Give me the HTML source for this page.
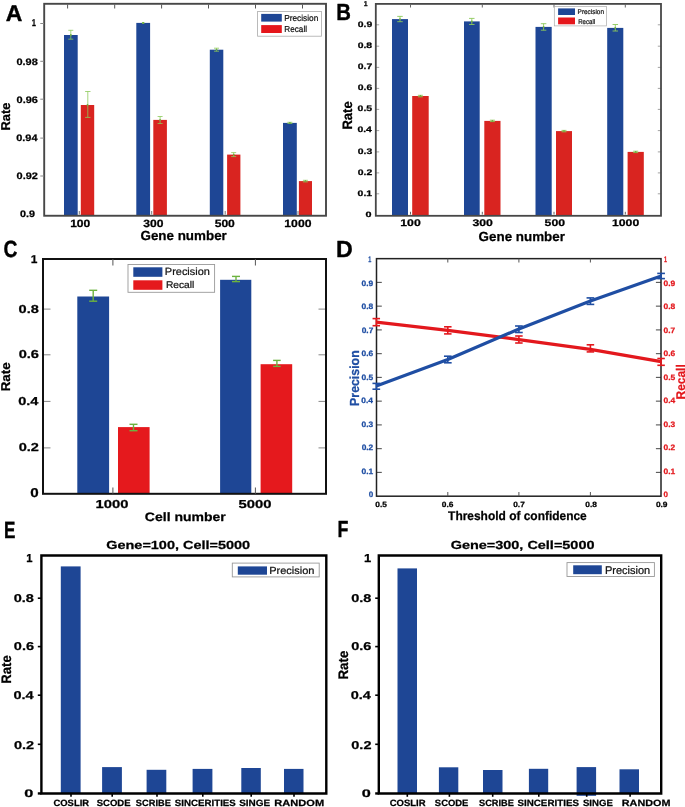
<!DOCTYPE html>
<html><head><meta charset="utf-8"><style>
html,body{margin:0;padding:0;background:#fff;overflow:hidden;}
svg{display:block;font-family:"Liberation Sans",sans-serif;will-change:transform;text-rendering:geometricPrecision;}
</style></head><body>
<svg width="685" height="807" viewBox="0 0 685 807">
<rect width="685" height="807" fill="#fff"/>
<text transform="translate(5.73,20.7) scale(1.01,1)" font-size="22.75" fill="#000" font-weight="bold" stroke="#000" stroke-width="0.4" stroke-linejoin="round">A</text>
<rect x="64" y="35" width="13.7" height="180" fill="#1e4695"/>
<rect x="80.8" y="105" width="13.4" height="110" fill="#d92420"/>
<rect x="136.3" y="22.9" width="13.8" height="192.1" fill="#1e4695"/>
<rect x="153.3" y="119.9" width="13.6" height="95.1" fill="#d92420"/>
<rect x="209.8" y="49.7" width="13.5" height="165.3" fill="#1e4695"/>
<rect x="227.1" y="154.6" width="13.3" height="60.4" fill="#d92420"/>
<rect x="283" y="122.9" width="13.8" height="92.1" fill="#1e4695"/>
<rect x="298.9" y="181.1" width="13.1" height="33.9" fill="#d92420"/>
<line x1="70.8" y1="30.3" x2="70.8" y2="39.2" stroke="#8dc95a" stroke-width="0.8"/>
<line x1="68.3" y1="30.3" x2="73.3" y2="30.3" stroke="#8dc95a" stroke-width="0.8"/>
<line x1="68.3" y1="39.2" x2="73.3" y2="39.2" stroke="#8dc95a" stroke-width="0.8"/>
<line x1="87.8" y1="91.5" x2="87.8" y2="117.4" stroke="#8dc95a" stroke-width="0.8"/>
<line x1="85.1" y1="91.5" x2="90.5" y2="91.5" stroke="#8dc95a" stroke-width="0.8"/>
<line x1="85.1" y1="117.4" x2="90.5" y2="117.4" stroke="#8dc95a" stroke-width="0.8"/>
<line x1="143.2" y1="22.5" x2="143.2" y2="23.3" stroke="#8dc95a" stroke-width="0.8"/>
<line x1="141.95" y1="22.5" x2="144.45" y2="22.5" stroke="#8dc95a" stroke-width="0.8"/>
<line x1="141.95" y1="23.3" x2="144.45" y2="23.3" stroke="#8dc95a" stroke-width="0.8"/>
<line x1="160.1" y1="116.5" x2="160.1" y2="123.5" stroke="#8dc95a" stroke-width="0.8"/>
<line x1="157.6" y1="116.5" x2="162.6" y2="116.5" stroke="#8dc95a" stroke-width="0.8"/>
<line x1="157.6" y1="123.5" x2="162.6" y2="123.5" stroke="#8dc95a" stroke-width="0.8"/>
<line x1="216.5" y1="48.2" x2="216.5" y2="51.2" stroke="#8dc95a" stroke-width="0.8"/>
<line x1="214" y1="48.2" x2="219" y2="48.2" stroke="#8dc95a" stroke-width="0.8"/>
<line x1="214" y1="51.2" x2="219" y2="51.2" stroke="#8dc95a" stroke-width="0.8"/>
<line x1="233.7" y1="152.6" x2="233.7" y2="156.6" stroke="#8dc95a" stroke-width="0.8"/>
<line x1="231.2" y1="152.6" x2="236.2" y2="152.6" stroke="#8dc95a" stroke-width="0.8"/>
<line x1="231.2" y1="156.6" x2="236.2" y2="156.6" stroke="#8dc95a" stroke-width="0.8"/>
<line x1="289.9" y1="122.3" x2="289.9" y2="123.5" stroke="#8dc95a" stroke-width="0.8"/>
<line x1="287.4" y1="122.3" x2="292.4" y2="122.3" stroke="#8dc95a" stroke-width="0.8"/>
<line x1="287.4" y1="123.5" x2="292.4" y2="123.5" stroke="#8dc95a" stroke-width="0.8"/>
<line x1="305.4" y1="180.3" x2="305.4" y2="181.9" stroke="#8dc95a" stroke-width="0.8"/>
<line x1="302.9" y1="180.3" x2="307.9" y2="180.3" stroke="#8dc95a" stroke-width="0.8"/>
<line x1="302.9" y1="181.9" x2="307.9" y2="181.9" stroke="#8dc95a" stroke-width="0.8"/>
<circle cx="70.85" cy="35" r="0.9" fill="#6fae3f"/>
<circle cx="87.5" cy="105" r="0.9" fill="#6fae3f"/>
<circle cx="143.2" cy="22.9" r="0.9" fill="#6fae3f"/>
<circle cx="160.1" cy="119.9" r="0.9" fill="#6fae3f"/>
<circle cx="216.55" cy="49.7" r="0.9" fill="#6fae3f"/>
<circle cx="233.75" cy="154.6" r="0.9" fill="#6fae3f"/>
<circle cx="289.9" cy="122.9" r="0.9" fill="#6fae3f"/>
<circle cx="305.45" cy="181.1" r="0.9" fill="#6fae3f"/>
<rect x="44.2" y="3.8" width="281.8" height="211.95" fill="none" stroke="#474747" stroke-width="1.9"/>
<line x1="67.6" y1="4.5" x2="67.6" y2="8.5" stroke="#555" stroke-width="1"/>
<line x1="114.7" y1="4.5" x2="114.7" y2="8.5" stroke="#555" stroke-width="1"/>
<line x1="161.6" y1="4.5" x2="161.6" y2="8.5" stroke="#555" stroke-width="1"/>
<line x1="208.5" y1="4.5" x2="208.5" y2="8.5" stroke="#555" stroke-width="1"/>
<line x1="255.5" y1="4.5" x2="255.5" y2="8.5" stroke="#555" stroke-width="1"/>
<line x1="302.5" y1="4.5" x2="302.5" y2="8.5" stroke="#555" stroke-width="1"/>
<line x1="79.3" y1="211" x2="79.3" y2="214.5" stroke="#555" stroke-width="0.8"/>
<line x1="151.7" y1="211" x2="151.7" y2="214.5" stroke="#555" stroke-width="0.8"/>
<line x1="225.2" y1="211" x2="225.2" y2="214.5" stroke="#555" stroke-width="0.8"/>
<line x1="298" y1="211" x2="298" y2="214.5" stroke="#555" stroke-width="0.8"/>
<line x1="40.3" y1="23.5" x2="44" y2="23.5" stroke="#888" stroke-width="1"/>
<line x1="40.3" y1="61.3" x2="44" y2="61.3" stroke="#888" stroke-width="1"/>
<line x1="40.3" y1="99.2" x2="44" y2="99.2" stroke="#888" stroke-width="1"/>
<line x1="40.3" y1="138.1" x2="44" y2="138.1" stroke="#888" stroke-width="1"/>
<line x1="40.3" y1="176" x2="44" y2="176" stroke="#888" stroke-width="1"/>
<text transform="translate(16.49,64.63) scale(1.17,1)" font-size="9.37" fill="#000" font-weight="bold" stroke="#000" stroke-width="0.25" stroke-linejoin="round">0.98</text>
<text transform="translate(16.54,102.53) scale(1.17,1)" font-size="9.37" fill="#000" font-weight="bold" stroke="#000" stroke-width="0.25" stroke-linejoin="round">0.96</text>
<text transform="translate(16.21,141.43) scale(1.17,1)" font-size="9.37" fill="#000" font-weight="bold" stroke="#000" stroke-width="0.25" stroke-linejoin="round">0.94</text>
<text transform="translate(16.6,179.33) scale(1.17,1)" font-size="9.37" fill="#000" font-weight="bold" stroke="#000" stroke-width="0.25" stroke-linejoin="round">0.92</text>
<text transform="translate(19.99,216.68) scale(1.15,1)" font-size="9.37" fill="#000" font-weight="bold" stroke="#000" stroke-width="0.25" stroke-linejoin="round">0.9</text>
<text transform="translate(31.73,25.77) scale(0.77,1)" font-size="9.93" fill="#000" font-weight="bold" stroke="#000" stroke-width="0.25" stroke-linejoin="round">1</text>
<rect x="257.6" y="11.4" width="63.9" height="24.8" fill="#fff" stroke="#aaa" stroke-width="0.8"/>
<rect x="261.2" y="13.9" width="20.6" height="7.7" fill="#1e4695"/>
<rect x="261.2" y="25.1" width="20.6" height="7.9" fill="#e5161b"/>
<text transform="translate(284.14,21) scale(0.96,1)" font-size="8.68" fill="#111" stroke="#111" stroke-width="0.22" stroke-linejoin="round">Precision</text>
<text transform="translate(284.36,32.2) scale(0.94,1)" font-size="8.68" fill="#111" stroke="#111" stroke-width="0.22" stroke-linejoin="round">Recall</text>
<text transform="translate(70.14,226.67) scale(1.15,1)" font-size="10.49" fill="#000" font-weight="bold" stroke="#000" stroke-width="0.25" stroke-linejoin="round">100</text>
<text transform="translate(143.33,226.67) scale(1.15,1)" font-size="10.49" fill="#000" font-weight="bold" stroke="#000" stroke-width="0.25" stroke-linejoin="round">300</text>
<text transform="translate(214.7,226.67) scale(1.15,1)" font-size="10.49" fill="#000" font-weight="bold" stroke="#000" stroke-width="0.25" stroke-linejoin="round">500</text>
<text transform="translate(284.36,226.67) scale(1.16,1)" font-size="10.49" fill="#000" font-weight="bold" stroke="#000" stroke-width="0.25" stroke-linejoin="round">1000</text>
<text transform="translate(140.49,240.14) scale(1.02,1)" font-size="13.13" fill="#000" font-weight="bold" stroke="#000" stroke-width="0.25" stroke-linejoin="round">Gene number</text>
<text transform="translate(10.05,130.52) rotate(-90) scale(1.01,1)" font-size="12.79" fill="#000" font-weight="bold" stroke="#000" stroke-width="0.25" stroke-linejoin="round">Rate</text>
<text transform="translate(336.28,20.2) scale(0.87,1)" font-size="23.33" fill="#000" font-weight="bold" stroke="#000" stroke-width="0.4" stroke-linejoin="round">B</text>
<rect x="392" y="19.1" width="16" height="195.9" fill="#1e4695"/>
<rect x="412.2" y="96" width="16.5" height="119" fill="#d92420"/>
<rect x="464" y="21.4" width="15.7" height="193.6" fill="#1e4695"/>
<rect x="484.3" y="120.9" width="16.2" height="94.1" fill="#d92420"/>
<rect x="535.5" y="26.9" width="16.2" height="188.1" fill="#1e4695"/>
<rect x="556" y="131.1" width="16" height="83.9" fill="#d92420"/>
<rect x="607.2" y="27.9" width="16.1" height="187.1" fill="#1e4695"/>
<rect x="627.6" y="151.9" width="16.2" height="63.1" fill="#d92420"/>
<line x1="400" y1="16.4" x2="400" y2="21.7" stroke="#8dc95a" stroke-width="0.9"/>
<line x1="397.25" y1="16.4" x2="402.75" y2="16.4" stroke="#8dc95a" stroke-width="0.9"/>
<line x1="397.25" y1="21.7" x2="402.75" y2="21.7" stroke="#8dc95a" stroke-width="0.9"/>
<line x1="471.8" y1="18.4" x2="471.8" y2="24.5" stroke="#8dc95a" stroke-width="0.9"/>
<line x1="469.05" y1="18.4" x2="474.55" y2="18.4" stroke="#8dc95a" stroke-width="0.9"/>
<line x1="469.05" y1="24.5" x2="474.55" y2="24.5" stroke="#8dc95a" stroke-width="0.9"/>
<line x1="543.6" y1="23.7" x2="543.6" y2="30.2" stroke="#8dc95a" stroke-width="0.9"/>
<line x1="540.85" y1="23.7" x2="546.35" y2="23.7" stroke="#8dc95a" stroke-width="0.9"/>
<line x1="540.85" y1="30.2" x2="546.35" y2="30.2" stroke="#8dc95a" stroke-width="0.9"/>
<line x1="615.3" y1="24.5" x2="615.3" y2="31" stroke="#8dc95a" stroke-width="0.9"/>
<line x1="612.55" y1="24.5" x2="618.05" y2="24.5" stroke="#8dc95a" stroke-width="0.9"/>
<line x1="612.55" y1="31" x2="618.05" y2="31" stroke="#8dc95a" stroke-width="0.9"/>
<line x1="420.4" y1="95.3" x2="420.4" y2="96.8" stroke="#8dc95a" stroke-width="0.9"/>
<line x1="417.9" y1="95.3" x2="422.9" y2="95.3" stroke="#8dc95a" stroke-width="0.9"/>
<line x1="417.9" y1="96.8" x2="422.9" y2="96.8" stroke="#8dc95a" stroke-width="0.9"/>
<line x1="492.4" y1="120.2" x2="492.4" y2="121.6" stroke="#8dc95a" stroke-width="0.9"/>
<line x1="489.9" y1="120.2" x2="494.9" y2="120.2" stroke="#8dc95a" stroke-width="0.9"/>
<line x1="489.9" y1="121.6" x2="494.9" y2="121.6" stroke="#8dc95a" stroke-width="0.9"/>
<line x1="564" y1="130.4" x2="564" y2="131.8" stroke="#8dc95a" stroke-width="0.9"/>
<line x1="561.5" y1="130.4" x2="566.5" y2="130.4" stroke="#8dc95a" stroke-width="0.9"/>
<line x1="561.5" y1="131.8" x2="566.5" y2="131.8" stroke="#8dc95a" stroke-width="0.9"/>
<line x1="635.7" y1="151.2" x2="635.7" y2="152.6" stroke="#8dc95a" stroke-width="0.9"/>
<line x1="633.2" y1="151.2" x2="638.2" y2="151.2" stroke="#8dc95a" stroke-width="0.9"/>
<line x1="633.2" y1="152.6" x2="638.2" y2="152.6" stroke="#8dc95a" stroke-width="0.9"/>
<line x1="375.8" y1="24.8" x2="379.2" y2="24.8" stroke="#999" stroke-width="0.9"/>
<line x1="657.8" y1="24.8" x2="661.2" y2="24.8" stroke="#999" stroke-width="0.9"/>
<line x1="375.8" y1="46.2" x2="379.2" y2="46.2" stroke="#999" stroke-width="0.9"/>
<line x1="657.8" y1="46.2" x2="661.2" y2="46.2" stroke="#999" stroke-width="0.9"/>
<line x1="375.8" y1="67.4" x2="379.2" y2="67.4" stroke="#999" stroke-width="0.9"/>
<line x1="657.8" y1="67.4" x2="661.2" y2="67.4" stroke="#999" stroke-width="0.9"/>
<line x1="375.8" y1="88.4" x2="379.2" y2="88.4" stroke="#999" stroke-width="0.9"/>
<line x1="657.8" y1="88.4" x2="661.2" y2="88.4" stroke="#999" stroke-width="0.9"/>
<line x1="375.8" y1="109.4" x2="379.2" y2="109.4" stroke="#999" stroke-width="0.9"/>
<line x1="657.8" y1="109.4" x2="661.2" y2="109.4" stroke="#999" stroke-width="0.9"/>
<line x1="375.8" y1="130.6" x2="379.2" y2="130.6" stroke="#999" stroke-width="0.9"/>
<line x1="657.8" y1="130.6" x2="661.2" y2="130.6" stroke="#999" stroke-width="0.9"/>
<line x1="375.8" y1="151.9" x2="379.2" y2="151.9" stroke="#999" stroke-width="0.9"/>
<line x1="657.8" y1="151.9" x2="661.2" y2="151.9" stroke="#999" stroke-width="0.9"/>
<line x1="375.8" y1="172.9" x2="379.2" y2="172.9" stroke="#999" stroke-width="0.9"/>
<line x1="657.8" y1="172.9" x2="661.2" y2="172.9" stroke="#999" stroke-width="0.9"/>
<line x1="375.8" y1="193.8" x2="379.2" y2="193.8" stroke="#999" stroke-width="0.9"/>
<line x1="657.8" y1="193.8" x2="661.2" y2="193.8" stroke="#999" stroke-width="0.9"/>
<circle cx="400" cy="19.1" r="0.9" fill="#6fae3f"/>
<circle cx="420.45" cy="96" r="0.9" fill="#6fae3f"/>
<circle cx="471.85" cy="21.4" r="0.9" fill="#6fae3f"/>
<circle cx="492.4" cy="120.9" r="0.9" fill="#6fae3f"/>
<circle cx="543.6" cy="26.9" r="0.9" fill="#6fae3f"/>
<circle cx="564" cy="131.1" r="0.9" fill="#6fae3f"/>
<circle cx="615.25" cy="27.9" r="0.9" fill="#6fae3f"/>
<circle cx="635.7" cy="151.9" r="0.9" fill="#6fae3f"/>
<rect x="375.8" y="3.9" width="285.2" height="211.9" fill="none" stroke="#474747" stroke-width="1.8"/>
<line x1="410.5" y1="4.6" x2="410.5" y2="7.5" stroke="#555" stroke-width="0.9"/>
<line x1="410.5" y1="211.8" x2="410.5" y2="214.5" stroke="#555" stroke-width="0.9"/>
<line x1="482.3" y1="4.6" x2="482.3" y2="7.5" stroke="#555" stroke-width="0.9"/>
<line x1="482.3" y1="211.8" x2="482.3" y2="214.5" stroke="#555" stroke-width="0.9"/>
<line x1="554" y1="4.6" x2="554" y2="7.5" stroke="#555" stroke-width="0.9"/>
<line x1="554" y1="211.8" x2="554" y2="214.5" stroke="#555" stroke-width="0.9"/>
<line x1="625.3" y1="4.6" x2="625.3" y2="7.5" stroke="#555" stroke-width="0.9"/>
<line x1="625.3" y1="211.8" x2="625.3" y2="214.5" stroke="#555" stroke-width="0.9"/>
<text transform="translate(357.71,26.6) scale(1.31,1)" font-size="7.96" fill="#000" font-weight="bold" stroke="#000" stroke-width="0.25" stroke-linejoin="round">0.9</text>
<text transform="translate(357.65,48) scale(1.31,1)" font-size="7.96" fill="#000" font-weight="bold" stroke="#000" stroke-width="0.25" stroke-linejoin="round">0.8</text>
<text transform="translate(357.81,69.2) scale(1.31,1)" font-size="7.96" fill="#000" font-weight="bold" stroke="#000" stroke-width="0.25" stroke-linejoin="round">0.7</text>
<text transform="translate(357.71,90.2) scale(1.31,1)" font-size="7.96" fill="#000" font-weight="bold" stroke="#000" stroke-width="0.25" stroke-linejoin="round">0.6</text>
<text transform="translate(357.6,111.2) scale(1.31,1)" font-size="7.96" fill="#000" font-weight="bold" stroke="#000" stroke-width="0.25" stroke-linejoin="round">0.5</text>
<text transform="translate(357.39,132.4) scale(1.31,1)" font-size="7.96" fill="#000" font-weight="bold" stroke="#000" stroke-width="0.25" stroke-linejoin="round">0.4</text>
<text transform="translate(357.71,153.7) scale(1.31,1)" font-size="7.96" fill="#000" font-weight="bold" stroke="#000" stroke-width="0.25" stroke-linejoin="round">0.3</text>
<text transform="translate(357.76,174.7) scale(1.31,1)" font-size="7.96" fill="#000" font-weight="bold" stroke="#000" stroke-width="0.25" stroke-linejoin="round">0.2</text>
<text transform="translate(357.6,195.6) scale(1.31,1)" font-size="7.96" fill="#000" font-weight="bold" stroke="#000" stroke-width="0.25" stroke-linejoin="round">0.1</text>
<text transform="translate(365.39,216.5) scale(1.41,1)" font-size="7.68" fill="#000" font-weight="bold" stroke="#000" stroke-width="0.25" stroke-linejoin="round">0</text>
<text transform="translate(363.77,6.47) scale(0.99,1)" font-size="7.03" fill="#000" font-weight="bold" stroke="#000" stroke-width="0.25" stroke-linejoin="round">1</text>
<rect x="554.3" y="6.4" width="52.3" height="19.5" fill="#fff" stroke="#aaa" stroke-width="0.7"/>
<rect x="558.1" y="8.4" width="16.9" height="6.6" fill="#1e4695"/>
<rect x="558.1" y="17.5" width="16.9" height="6.8" fill="#e5161b"/>
<text transform="translate(577.6,14.42) scale(0.93,1)" font-size="6.91" fill="#111" stroke="#111" stroke-width="0.22" stroke-linejoin="round">Precision</text>
<text transform="translate(578.22,23.62) scale(0.88,1)" font-size="6.91" fill="#111" stroke="#111" stroke-width="0.22" stroke-linejoin="round">Recall</text>
<text transform="translate(400.28,226.38) scale(1.27,1)" font-size="9.65" fill="#000" font-weight="bold" stroke="#000" stroke-width="0.25" stroke-linejoin="round">100</text>
<text transform="translate(472.42,226.38) scale(1.27,1)" font-size="9.65" fill="#000" font-weight="bold" stroke="#000" stroke-width="0.25" stroke-linejoin="round">300</text>
<text transform="translate(544.59,226.38) scale(1.27,1)" font-size="9.65" fill="#000" font-weight="bold" stroke="#000" stroke-width="0.25" stroke-linejoin="round">500</text>
<text transform="translate(612.01,226.38) scale(1.27,1)" font-size="9.65" fill="#000" font-weight="bold" stroke="#000" stroke-width="0.25" stroke-linejoin="round">1000</text>
<text transform="translate(478.59,241.34) scale(1.02,1)" font-size="13.13" fill="#000" font-weight="bold" stroke="#000" stroke-width="0.25" stroke-linejoin="round">Gene number</text>
<text transform="translate(351.74,129.62) rotate(-90) scale(0.96,1)" font-size="13.64" fill="#000" font-weight="bold" stroke="#000" stroke-width="0.25" stroke-linejoin="round">Rate</text>
<text transform="translate(3.62,257.36) scale(0.82,1)" font-size="23.52" fill="#000" font-weight="bold" stroke="#000" stroke-width="0.4" stroke-linejoin="round">C</text>
<rect x="77.3" y="296.5" width="31.8" height="197.3" fill="#1e4695"/>
<rect x="118" y="427.1" width="31.6" height="66.7" fill="#e5191d"/>
<rect x="220.1" y="279.8" width="31.2" height="214" fill="#1e4695"/>
<rect x="260.6" y="364.2" width="31.6" height="129.6" fill="#e5191d"/>
<line x1="93.2" y1="290.3" x2="93.2" y2="301.2" stroke="#6cb33f" stroke-width="1.4"/>
<line x1="89.2" y1="290.3" x2="97.2" y2="290.3" stroke="#6cb33f" stroke-width="1.4"/>
<line x1="89.2" y1="301.2" x2="97.2" y2="301.2" stroke="#6cb33f" stroke-width="1.4"/>
<line x1="133.5" y1="424.3" x2="133.5" y2="430.7" stroke="#6cb33f" stroke-width="1.4"/>
<line x1="129.5" y1="424.3" x2="137.5" y2="424.3" stroke="#6cb33f" stroke-width="1.4"/>
<line x1="129.5" y1="430.7" x2="137.5" y2="430.7" stroke="#6cb33f" stroke-width="1.4"/>
<line x1="236" y1="276.4" x2="236" y2="281.6" stroke="#6cb33f" stroke-width="1.4"/>
<line x1="232" y1="276.4" x2="240" y2="276.4" stroke="#6cb33f" stroke-width="1.4"/>
<line x1="232" y1="281.6" x2="240" y2="281.6" stroke="#6cb33f" stroke-width="1.4"/>
<line x1="276.9" y1="360.4" x2="276.9" y2="366.4" stroke="#6cb33f" stroke-width="1.4"/>
<line x1="273.1" y1="360.4" x2="280.7" y2="360.4" stroke="#6cb33f" stroke-width="1.4"/>
<line x1="273.1" y1="366.4" x2="280.7" y2="366.4" stroke="#6cb33f" stroke-width="1.4"/>
<line x1="43" y1="309.1" x2="50.5" y2="309.1" stroke="#888" stroke-width="1"/>
<line x1="318.5" y1="309.1" x2="326" y2="309.1" stroke="#888" stroke-width="1"/>
<line x1="43" y1="354.8" x2="50.5" y2="354.8" stroke="#888" stroke-width="1"/>
<line x1="318.5" y1="354.8" x2="326" y2="354.8" stroke="#888" stroke-width="1"/>
<line x1="43" y1="401.4" x2="50.5" y2="401.4" stroke="#888" stroke-width="1"/>
<line x1="318.5" y1="401.4" x2="326" y2="401.4" stroke="#888" stroke-width="1"/>
<line x1="43" y1="447.9" x2="50.5" y2="447.9" stroke="#888" stroke-width="1"/>
<line x1="318.5" y1="447.9" x2="326" y2="447.9" stroke="#888" stroke-width="1"/>
<rect x="43" y="259" width="283" height="234.8" fill="none" stroke="#111" stroke-width="2"/>
<line x1="112.9" y1="259" x2="112.9" y2="265.5" stroke="#555" stroke-width="1"/>
<line x1="112.9" y1="487.5" x2="112.9" y2="493.8" stroke="#555" stroke-width="1"/>
<line x1="255.4" y1="259" x2="255.4" y2="265.5" stroke="#555" stroke-width="1"/>
<line x1="255.4" y1="487.5" x2="255.4" y2="493.8" stroke="#555" stroke-width="1"/>
<text transform="translate(30.65,262.98) scale(1.05,1)" font-size="11.38" fill="#000" font-weight="bold" stroke="#000" stroke-width="0.25" stroke-linejoin="round">1</text>
<text transform="translate(18.57,312.66) scale(1.27,1)" font-size="11.48" fill="#000" font-weight="bold" stroke="#000" stroke-width="0.25" stroke-linejoin="round">0.8</text>
<text transform="translate(18.64,358.36) scale(1.27,1)" font-size="11.48" fill="#000" font-weight="bold" stroke="#000" stroke-width="0.25" stroke-linejoin="round">0.6</text>
<text transform="translate(18.2,404.96) scale(1.27,1)" font-size="11.48" fill="#000" font-weight="bold" stroke="#000" stroke-width="0.25" stroke-linejoin="round">0.4</text>
<text transform="translate(18.72,451.46) scale(1.27,1)" font-size="11.48" fill="#000" font-weight="bold" stroke="#000" stroke-width="0.25" stroke-linejoin="round">0.2</text>
<text transform="translate(30.21,497.45) scale(1.18,1)" font-size="12.89" fill="#000" font-weight="bold" stroke="#000" stroke-width="0.25" stroke-linejoin="round">0</text>
<rect x="128" y="264.5" width="86.6" height="27.8" fill="#fff" stroke="#999" stroke-width="0.9"/>
<rect x="133.3" y="267.3" width="29.1" height="9.5" fill="#1e4695"/>
<rect x="133.3" y="280.3" width="29.1" height="9.5" fill="#e5191d"/>
<text transform="translate(164.83,275.19) scale(1.05,1)" font-size="10.45" fill="#111" stroke="#111" stroke-width="0.22" stroke-linejoin="round">Precision</text>
<text transform="translate(165.89,287.59) scale(1.05,1)" font-size="9.77" fill="#111" stroke="#111" stroke-width="0.22" stroke-linejoin="round">Recall</text>
<text transform="translate(95.46,507.76) scale(1.29,1)" font-size="11.48" fill="#000" font-weight="bold" stroke="#000" stroke-width="0.25" stroke-linejoin="round">1000</text>
<text transform="translate(238.62,507.76) scale(1.29,1)" font-size="11.48" fill="#000" font-weight="bold" stroke="#000" stroke-width="0.25" stroke-linejoin="round">5000</text>
<text transform="translate(144.87,520.85) scale(1.15,1)" font-size="12.18" fill="#000" font-weight="bold" stroke="#000" stroke-width="0.25" stroke-linejoin="round">Cell number</text>
<text transform="translate(10.15,391.35) rotate(-90) scale(1.05,1)" font-size="12.79" fill="#000" font-weight="bold" stroke="#000" stroke-width="0.25" stroke-linejoin="round">Rate</text>
<text transform="translate(336.09,257.1) scale(1,1)" font-size="23.19" fill="#000" font-weight="bold" stroke="#000" stroke-width="0.4" stroke-linejoin="round">D</text>
<line x1="376.5" y1="282.4" x2="381.8" y2="282.4" stroke="#555" stroke-width="1.1"/>
<line x1="655.9" y1="282.4" x2="661" y2="282.4" stroke="#555" stroke-width="1.1"/>
<line x1="376.5" y1="306.15" x2="381.8" y2="306.15" stroke="#555" stroke-width="1.1"/>
<line x1="655.9" y1="306.15" x2="661" y2="306.15" stroke="#555" stroke-width="1.1"/>
<line x1="376.5" y1="329.9" x2="381.8" y2="329.9" stroke="#555" stroke-width="1.1"/>
<line x1="655.9" y1="329.9" x2="661" y2="329.9" stroke="#555" stroke-width="1.1"/>
<line x1="376.5" y1="353.65" x2="381.8" y2="353.65" stroke="#555" stroke-width="1.1"/>
<line x1="655.9" y1="353.65" x2="661" y2="353.65" stroke="#555" stroke-width="1.1"/>
<line x1="376.5" y1="377.4" x2="381.8" y2="377.4" stroke="#555" stroke-width="1.1"/>
<line x1="655.9" y1="377.4" x2="661" y2="377.4" stroke="#555" stroke-width="1.1"/>
<line x1="376.5" y1="401.15" x2="381.8" y2="401.15" stroke="#555" stroke-width="1.1"/>
<line x1="655.9" y1="401.15" x2="661" y2="401.15" stroke="#555" stroke-width="1.1"/>
<line x1="376.5" y1="424.9" x2="381.8" y2="424.9" stroke="#555" stroke-width="1.1"/>
<line x1="655.9" y1="424.9" x2="661" y2="424.9" stroke="#555" stroke-width="1.1"/>
<line x1="376.5" y1="448.65" x2="381.8" y2="448.65" stroke="#555" stroke-width="1.1"/>
<line x1="655.9" y1="448.65" x2="661" y2="448.65" stroke="#555" stroke-width="1.1"/>
<line x1="376.5" y1="472.4" x2="381.8" y2="472.4" stroke="#555" stroke-width="1.1"/>
<line x1="655.9" y1="472.4" x2="661" y2="472.4" stroke="#555" stroke-width="1.1"/>
<rect x="376.5" y="258.65" width="284.5" height="237.55" fill="none" stroke="#222" stroke-width="1.5"/>
<line x1="447.8" y1="258.6" x2="447.8" y2="262.5" stroke="#555" stroke-width="1"/>
<line x1="447.8" y1="492" x2="447.8" y2="496.2" stroke="#555" stroke-width="1"/>
<line x1="518.9" y1="258.6" x2="518.9" y2="262.5" stroke="#555" stroke-width="1"/>
<line x1="518.9" y1="492" x2="518.9" y2="496.2" stroke="#555" stroke-width="1"/>
<line x1="590.4" y1="258.6" x2="590.4" y2="262.5" stroke="#555" stroke-width="1"/>
<line x1="590.4" y1="492" x2="590.4" y2="496.2" stroke="#555" stroke-width="1"/>
<polyline points="376.3,322.2 447.8,330.4 518.9,339.6 590.4,349.4 661.1,361.7" fill="none" stroke="#e3181d" stroke-width="3.2" stroke-linejoin="round"/>
<polyline points="376.3,386 447.8,359.5 518.9,329 590.4,301 661.1,275.9" fill="none" stroke="#1f4ea3" stroke-width="3.2" stroke-linejoin="round"/>
<line x1="376.3" y1="318.6" x2="376.3" y2="325.7" stroke="#e3181d" stroke-width="1.6"/>
<line x1="372.55" y1="318.6" x2="380.05" y2="318.6" stroke="#e3181d" stroke-width="1.6"/>
<line x1="372.55" y1="325.7" x2="380.05" y2="325.7" stroke="#e3181d" stroke-width="1.6"/>
<line x1="447.8" y1="326.8" x2="447.8" y2="333.9" stroke="#e3181d" stroke-width="1.6"/>
<line x1="444.05" y1="326.8" x2="451.55" y2="326.8" stroke="#e3181d" stroke-width="1.6"/>
<line x1="444.05" y1="333.9" x2="451.55" y2="333.9" stroke="#e3181d" stroke-width="1.6"/>
<line x1="518.9" y1="336" x2="518.9" y2="343" stroke="#e3181d" stroke-width="1.6"/>
<line x1="515.15" y1="336" x2="522.65" y2="336" stroke="#e3181d" stroke-width="1.6"/>
<line x1="515.15" y1="343" x2="522.65" y2="343" stroke="#e3181d" stroke-width="1.6"/>
<line x1="590.4" y1="344.8" x2="590.4" y2="351.9" stroke="#e3181d" stroke-width="1.6"/>
<line x1="586.65" y1="344.8" x2="594.15" y2="344.8" stroke="#e3181d" stroke-width="1.6"/>
<line x1="586.65" y1="351.9" x2="594.15" y2="351.9" stroke="#e3181d" stroke-width="1.6"/>
<line x1="661.1" y1="358.5" x2="661.1" y2="365.3" stroke="#e3181d" stroke-width="1.6"/>
<line x1="657.35" y1="358.5" x2="664.85" y2="358.5" stroke="#e3181d" stroke-width="1.6"/>
<line x1="657.35" y1="365.3" x2="664.85" y2="365.3" stroke="#e3181d" stroke-width="1.6"/>
<line x1="376.3" y1="383.4" x2="376.3" y2="389.2" stroke="#1f4ea3" stroke-width="1.6"/>
<line x1="372.45" y1="383.4" x2="380.15" y2="383.4" stroke="#1f4ea3" stroke-width="1.6"/>
<line x1="372.45" y1="389.2" x2="380.15" y2="389.2" stroke="#1f4ea3" stroke-width="1.6"/>
<line x1="447.8" y1="356.2" x2="447.8" y2="362.8" stroke="#1f4ea3" stroke-width="1.6"/>
<line x1="443.95" y1="356.2" x2="451.65" y2="356.2" stroke="#1f4ea3" stroke-width="1.6"/>
<line x1="443.95" y1="362.8" x2="451.65" y2="362.8" stroke="#1f4ea3" stroke-width="1.6"/>
<line x1="518.9" y1="326" x2="518.9" y2="332.5" stroke="#1f4ea3" stroke-width="1.6"/>
<line x1="515.05" y1="326" x2="522.75" y2="326" stroke="#1f4ea3" stroke-width="1.6"/>
<line x1="515.05" y1="332.5" x2="522.75" y2="332.5" stroke="#1f4ea3" stroke-width="1.6"/>
<line x1="590.4" y1="297.9" x2="590.4" y2="304.4" stroke="#1f4ea3" stroke-width="1.6"/>
<line x1="586.55" y1="297.9" x2="594.25" y2="297.9" stroke="#1f4ea3" stroke-width="1.6"/>
<line x1="586.55" y1="304.4" x2="594.25" y2="304.4" stroke="#1f4ea3" stroke-width="1.6"/>
<line x1="661.1" y1="273.4" x2="661.1" y2="278.6" stroke="#1f4ea3" stroke-width="1.6"/>
<line x1="657.25" y1="273.4" x2="664.95" y2="273.4" stroke="#1f4ea3" stroke-width="1.6"/>
<line x1="657.25" y1="278.6" x2="664.95" y2="278.6" stroke="#1f4ea3" stroke-width="1.6"/>
<text transform="translate(361.59,285.9) scale(1.07,1)" font-size="7.82" fill="#1f4ea3" font-weight="bold" stroke="#1f4ea3" stroke-width="0.25" stroke-linejoin="round">0.9</text>
<text transform="translate(361.55,309.4) scale(1.08,1)" font-size="7.82" fill="#1f4ea3" font-weight="bold" stroke="#1f4ea3" stroke-width="0.25" stroke-linejoin="round">0.8</text>
<text transform="translate(361.67,332.9) scale(1.07,1)" font-size="7.82" fill="#1f4ea3" font-weight="bold" stroke="#1f4ea3" stroke-width="0.25" stroke-linejoin="round">0.7</text>
<text transform="translate(361.59,356.4) scale(1.07,1)" font-size="7.82" fill="#1f4ea3" font-weight="bold" stroke="#1f4ea3" stroke-width="0.25" stroke-linejoin="round">0.6</text>
<text transform="translate(361.5,379.9) scale(1.08,1)" font-size="7.82" fill="#1f4ea3" font-weight="bold" stroke="#1f4ea3" stroke-width="0.25" stroke-linejoin="round">0.5</text>
<text transform="translate(361.33,403.4) scale(1.08,1)" font-size="7.82" fill="#1f4ea3" font-weight="bold" stroke="#1f4ea3" stroke-width="0.25" stroke-linejoin="round">0.4</text>
<text transform="translate(361.59,426.9) scale(1.07,1)" font-size="7.82" fill="#1f4ea3" font-weight="bold" stroke="#1f4ea3" stroke-width="0.25" stroke-linejoin="round">0.3</text>
<text transform="translate(361.63,450.4) scale(1.07,1)" font-size="7.82" fill="#1f4ea3" font-weight="bold" stroke="#1f4ea3" stroke-width="0.25" stroke-linejoin="round">0.2</text>
<text transform="translate(361.5,473.9) scale(1.08,1)" font-size="7.82" fill="#1f4ea3" font-weight="bold" stroke="#1f4ea3" stroke-width="0.25" stroke-linejoin="round">0.1</text>
<text transform="translate(368.82,497.4) scale(1.03,1)" font-size="7.82" fill="#1f4ea3" font-weight="bold" stroke="#1f4ea3" stroke-width="0.25" stroke-linejoin="round">0</text>
<text transform="translate(368.37,261.88) scale(0.68,1)" font-size="8.04" fill="#1f4ea3" font-weight="bold" stroke="#1f4ea3" stroke-width="0.25" stroke-linejoin="round">1</text>
<text transform="translate(663.49,285.9) scale(1.07,1)" font-size="7.82" fill="#e3181d" font-weight="bold" stroke="#e3181d" stroke-width="0.25" stroke-linejoin="round">0.9</text>
<text transform="translate(663.49,309.4) scale(1.08,1)" font-size="7.82" fill="#e3181d" font-weight="bold" stroke="#e3181d" stroke-width="0.25" stroke-linejoin="round">0.8</text>
<text transform="translate(663.49,332.9) scale(1.07,1)" font-size="7.82" fill="#e3181d" font-weight="bold" stroke="#e3181d" stroke-width="0.25" stroke-linejoin="round">0.7</text>
<text transform="translate(663.49,356.4) scale(1.07,1)" font-size="7.82" fill="#e3181d" font-weight="bold" stroke="#e3181d" stroke-width="0.25" stroke-linejoin="round">0.6</text>
<text transform="translate(663.49,379.9) scale(1.08,1)" font-size="7.82" fill="#e3181d" font-weight="bold" stroke="#e3181d" stroke-width="0.25" stroke-linejoin="round">0.5</text>
<text transform="translate(663.49,403.4) scale(1.08,1)" font-size="7.82" fill="#e3181d" font-weight="bold" stroke="#e3181d" stroke-width="0.25" stroke-linejoin="round">0.4</text>
<text transform="translate(663.49,426.9) scale(1.07,1)" font-size="7.82" fill="#e3181d" font-weight="bold" stroke="#e3181d" stroke-width="0.25" stroke-linejoin="round">0.3</text>
<text transform="translate(663.49,450.4) scale(1.07,1)" font-size="7.82" fill="#e3181d" font-weight="bold" stroke="#e3181d" stroke-width="0.25" stroke-linejoin="round">0.2</text>
<text transform="translate(663.49,473.9) scale(1.08,1)" font-size="7.82" fill="#e3181d" font-weight="bold" stroke="#e3181d" stroke-width="0.25" stroke-linejoin="round">0.1</text>
<text transform="translate(663.5,497.4) scale(1.03,1)" font-size="7.82" fill="#e3181d" font-weight="bold" stroke="#e3181d" stroke-width="0.25" stroke-linejoin="round">0</text>
<text transform="translate(663.97,261.88) scale(0.68,1)" font-size="8.04" fill="#e3181d" font-weight="bold" stroke="#e3181d" stroke-width="0.25" stroke-linejoin="round">1</text>
<text transform="translate(375.35,506.7) scale(1.11,1)" font-size="7.54" fill="#000" font-weight="bold" stroke="#000" stroke-width="0.25" stroke-linejoin="round">0.5</text>
<text transform="translate(441.79,506.7) scale(1.11,1)" font-size="7.54" fill="#000" font-weight="bold" stroke="#000" stroke-width="0.25" stroke-linejoin="round">0.6</text>
<text transform="translate(513.23,506.7) scale(1.1,1)" font-size="7.54" fill="#000" font-weight="bold" stroke="#000" stroke-width="0.25" stroke-linejoin="round">0.7</text>
<text transform="translate(585.37,506.7) scale(1.11,1)" font-size="7.54" fill="#000" font-weight="bold" stroke="#000" stroke-width="0.25" stroke-linejoin="round">0.8</text>
<text transform="translate(655.89,506.7) scale(1.11,1)" font-size="7.54" fill="#000" font-weight="bold" stroke="#000" stroke-width="0.25" stroke-linejoin="round">0.9</text>
<text transform="translate(448.11,519.65) scale(0.96,1)" font-size="12.45" fill="#000" font-weight="bold" stroke="#000" stroke-width="0.25" stroke-linejoin="round">Threshold of confidence</text>
<text transform="translate(358.94,405.88) rotate(-90) scale(0.94,1)" font-size="13.13" fill="#1f4ea3" font-weight="bold" stroke="#1f4ea3" stroke-width="0.25" stroke-linejoin="round">Precision</text>
<text transform="translate(684.55,399.45) rotate(-90) scale(0.95,1)" font-size="12.59" fill="#e3181d" font-weight="bold" stroke="#e3181d" stroke-width="0.25" stroke-linejoin="round">Recall</text>
<text transform="translate(4.08,538.4) scale(0.73,1)" font-size="23.48" fill="#000" font-weight="bold" stroke="#000" stroke-width="0.4" stroke-linejoin="round">E</text>
<rect x="60.8" y="566.4" width="19.8" height="227.05" fill="#1e4695"/>
<rect x="102.1" y="767.1" width="19.8" height="26.35" fill="#1e4695"/>
<rect x="146.6" y="769.8" width="19.7" height="23.65" fill="#1e4695"/>
<rect x="192.6" y="768.9" width="19.8" height="24.55" fill="#1e4695"/>
<rect x="241.3" y="768" width="19.5" height="25.45" fill="#1e4695"/>
<rect x="284" y="768.9" width="19.5" height="24.55" fill="#1e4695"/>
<path d="M41.4,555.5 L326.3,555.5 L326.3,793.45 L41.4,793.45 Z" fill="none" stroke="#000" stroke-width="2.4"/>
<line x1="37.8" y1="598.2" x2="41.4" y2="598.2" stroke="#000" stroke-width="1.6"/>
<line x1="37.8" y1="646.6" x2="41.4" y2="646.6" stroke="#000" stroke-width="1.6"/>
<line x1="37.8" y1="695.2" x2="41.4" y2="695.2" stroke="#000" stroke-width="1.6"/>
<line x1="37.8" y1="744.3" x2="41.4" y2="744.3" stroke="#000" stroke-width="1.6"/>
<line x1="37.8" y1="793.45" x2="41.4" y2="793.45" stroke="#000" stroke-width="2.4"/>
<line x1="71" y1="793.45" x2="71" y2="796.8" stroke="#000" stroke-width="1.6"/>
<line x1="112.2" y1="793.45" x2="112.2" y2="796.8" stroke="#000" stroke-width="1.6"/>
<line x1="157" y1="793.45" x2="157" y2="796.8" stroke="#000" stroke-width="1.6"/>
<line x1="202.8" y1="793.45" x2="202.8" y2="796.8" stroke="#000" stroke-width="1.6"/>
<line x1="251.2" y1="793.45" x2="251.2" y2="796.8" stroke="#000" stroke-width="1.6"/>
<line x1="294" y1="793.45" x2="294" y2="796.8" stroke="#000" stroke-width="1.6"/>
<text transform="translate(13.74,602.11) scale(1.28,1)" font-size="11.34" fill="#000" font-weight="bold" stroke="#000" stroke-width="0.25" stroke-linejoin="round">0.8</text>
<text transform="translate(13.82,650.01) scale(1.28,1)" font-size="11.34" fill="#000" font-weight="bold" stroke="#000" stroke-width="0.25" stroke-linejoin="round">0.6</text>
<text transform="translate(13.38,699.11) scale(1.28,1)" font-size="11.34" fill="#000" font-weight="bold" stroke="#000" stroke-width="0.25" stroke-linejoin="round">0.4</text>
<text transform="translate(13.89,748.81) scale(1.28,1)" font-size="11.34" fill="#000" font-weight="bold" stroke="#000" stroke-width="0.25" stroke-linejoin="round">0.2</text>
<text transform="translate(24.27,796.57) scale(1.49,1)" font-size="10.92" fill="#000" font-weight="bold" stroke="#000" stroke-width="0.25" stroke-linejoin="round">0</text>
<text transform="translate(26.19,562.08) scale(0.98,1)" font-size="11.52" fill="#000" font-weight="bold" stroke="#000" stroke-width="0.25" stroke-linejoin="round">1</text>
<text transform="translate(53.45,805.68) scale(1.04,1)" font-size="9.08" fill="#000" font-weight="bold" stroke="#000" stroke-width="0.25" stroke-linejoin="round">COSLIR</text>
<text transform="translate(96.64,805.68) scale(1.05,1)" font-size="9.08" fill="#000" font-weight="bold" stroke="#000" stroke-width="0.25" stroke-linejoin="round">SCODE</text>
<text transform="translate(135.85,805.68) scale(1.02,1)" font-size="9.08" fill="#000" font-weight="bold" stroke="#000" stroke-width="0.25" stroke-linejoin="round">SCRIBE</text>
<text transform="translate(174.83,805.68) scale(1.07,1)" font-size="9.08" fill="#000" font-weight="bold" stroke="#000" stroke-width="0.25" stroke-linejoin="round">SINCERITIES</text>
<text transform="translate(239.13,805.68) scale(1.1,1)" font-size="9.08" fill="#000" font-weight="bold" stroke="#000" stroke-width="0.25" stroke-linejoin="round">SINGE</text>
<text transform="translate(274.31,805.68) scale(1.22,1)" font-size="9.08" fill="#000" font-weight="bold" stroke="#000" stroke-width="0.25" stroke-linejoin="round">RANDOM</text>
<text transform="translate(106.25,549.45) scale(1.23,1)" font-size="11.76" fill="#000" font-weight="bold" stroke="#000" stroke-width="0.25" stroke-linejoin="round">Gene=100, Cell=5000</text>
<rect x="232.3" y="563.1" width="86.9" height="13.8" fill="#fff" stroke="#999" stroke-width="0.9"/>
<rect x="237.8" y="566.4" width="29.2" height="8.3" fill="#1e4695"/>
<text transform="translate(269.13,574.29) scale(1.07,1)" font-size="10.31" fill="#111" stroke="#111" stroke-width="0.22" stroke-linejoin="round">Precision</text>
<text transform="translate(10.64,683.63) rotate(-90) scale(0.95,1)" font-size="13.79" fill="#000" font-weight="bold" stroke="#000" stroke-width="0.25" stroke-linejoin="round">Rate</text>
<text transform="translate(337.54,536.7) scale(0.77,1)" font-size="23.19" fill="#000" font-weight="bold" stroke="#000" stroke-width="0.4" stroke-linejoin="round">F</text>
<rect x="397.5" y="568.4" width="19.5" height="225.05" fill="#1e4695"/>
<rect x="438.9" y="767.3" width="19.4" height="26.15" fill="#1e4695"/>
<rect x="483" y="770" width="19.5" height="23.45" fill="#1e4695"/>
<rect x="528.9" y="768.8" width="19.3" height="24.65" fill="#1e4695"/>
<rect x="576.6" y="767.1" width="19.5" height="28.7" fill="#1e4695"/>
<rect x="619.5" y="769.3" width="19.5" height="24.15" fill="#1e4695"/>
<path d="M378.8,555.5 L661.2,555.5 L661.2,793.45 L378.8,793.45 Z" fill="none" stroke="#000" stroke-width="2.4"/>
<line x1="375.2" y1="598.2" x2="378.8" y2="598.2" stroke="#000" stroke-width="1.6"/>
<line x1="375.2" y1="646.6" x2="378.8" y2="646.6" stroke="#000" stroke-width="1.6"/>
<line x1="375.2" y1="695.2" x2="378.8" y2="695.2" stroke="#000" stroke-width="1.6"/>
<line x1="375.2" y1="744.3" x2="378.8" y2="744.3" stroke="#000" stroke-width="1.6"/>
<line x1="375.2" y1="793.45" x2="378.8" y2="793.45" stroke="#000" stroke-width="2.4"/>
<line x1="407.3" y1="793.45" x2="407.3" y2="796.8" stroke="#000" stroke-width="1.6"/>
<line x1="449.4" y1="793.45" x2="449.4" y2="796.8" stroke="#000" stroke-width="1.6"/>
<line x1="492.7" y1="793.45" x2="492.7" y2="796.8" stroke="#000" stroke-width="1.6"/>
<line x1="538.8" y1="793.45" x2="538.8" y2="796.8" stroke="#000" stroke-width="1.6"/>
<line x1="586.7" y1="793.45" x2="586.7" y2="796.8" stroke="#000" stroke-width="1.6"/>
<line x1="630.1" y1="793.45" x2="630.1" y2="796.8" stroke="#000" stroke-width="1.6"/>
<text transform="translate(351.14,602.11) scale(1.28,1)" font-size="11.34" fill="#000" font-weight="bold" stroke="#000" stroke-width="0.25" stroke-linejoin="round">0.8</text>
<text transform="translate(351.22,650.01) scale(1.28,1)" font-size="11.34" fill="#000" font-weight="bold" stroke="#000" stroke-width="0.25" stroke-linejoin="round">0.6</text>
<text transform="translate(350.78,699.11) scale(1.28,1)" font-size="11.34" fill="#000" font-weight="bold" stroke="#000" stroke-width="0.25" stroke-linejoin="round">0.4</text>
<text transform="translate(351.29,748.81) scale(1.28,1)" font-size="11.34" fill="#000" font-weight="bold" stroke="#000" stroke-width="0.25" stroke-linejoin="round">0.2</text>
<text transform="translate(361.67,796.57) scale(1.49,1)" font-size="10.92" fill="#000" font-weight="bold" stroke="#000" stroke-width="0.25" stroke-linejoin="round">0</text>
<text transform="translate(363.98,562.08) scale(1.13,1)" font-size="11.52" fill="#000" font-weight="bold" stroke="#000" stroke-width="0.25" stroke-linejoin="round">1</text>
<text transform="translate(389.64,805.68) scale(1.05,1)" font-size="9.08" fill="#000" font-weight="bold" stroke="#000" stroke-width="0.25" stroke-linejoin="round">COSLIR</text>
<text transform="translate(434.84,805.68) scale(1.04,1)" font-size="9.08" fill="#000" font-weight="bold" stroke="#000" stroke-width="0.25" stroke-linejoin="round">SCODE</text>
<text transform="translate(478.95,805.68) scale(1.02,1)" font-size="9.08" fill="#000" font-weight="bold" stroke="#000" stroke-width="0.25" stroke-linejoin="round">SCRIBE</text>
<text transform="translate(517.43,805.68) scale(1.08,1)" font-size="9.08" fill="#000" font-weight="bold" stroke="#000" stroke-width="0.25" stroke-linejoin="round">SINCERITIES</text>
<text transform="translate(582.93,805.68) scale(1.06,1)" font-size="9.08" fill="#000" font-weight="bold" stroke="#000" stroke-width="0.25" stroke-linejoin="round">SINGE</text>
<text transform="translate(621.82,805.68) scale(1.19,1)" font-size="9.08" fill="#000" font-weight="bold" stroke="#000" stroke-width="0.25" stroke-linejoin="round">RANDOM</text>
<text transform="translate(450.65,549.45) scale(1.23,1)" font-size="11.76" fill="#000" font-weight="bold" stroke="#000" stroke-width="0.25" stroke-linejoin="round">Gene=300, Cell=5000</text>
<rect x="567" y="562.6" width="87.4" height="13.9" fill="#fff" stroke="#999" stroke-width="0.9"/>
<rect x="573.2" y="565.3" width="28.6" height="8.9" fill="#1e4695"/>
<text transform="translate(604.93,573.78) scale(0.99,1)" font-size="11.13" fill="#111" stroke="#111" stroke-width="0.22" stroke-linejoin="round">Precision</text>
<text transform="translate(348.34,679.54) rotate(-90) scale(0.97,1)" font-size="13.79" fill="#000" font-weight="bold" stroke="#000" stroke-width="0.25" stroke-linejoin="round">Rate</text>
</svg>
</body></html>
